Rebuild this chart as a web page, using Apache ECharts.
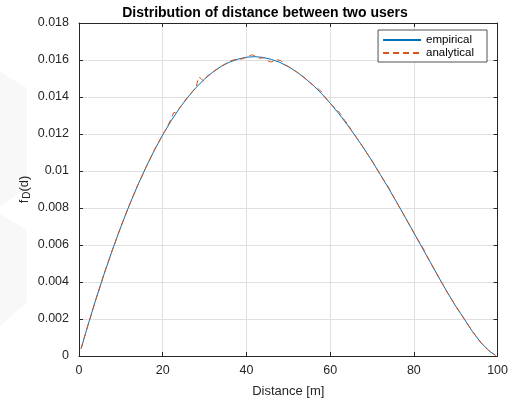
<!DOCTYPE html>
<html>
<head>
<meta charset="utf-8">
<script src="https://cdn.jsdelivr.net/npm/echarts@6/dist/echarts.min.js"></script>
<style>
  html, body { margin: 0; padding: 0; background: #fff; }
  #chart { width: 511px; height: 403px; }
</style>
</head>
<body>
<div id="chart"></div>
<script>
// Empirical distance histogram (bin centres in metres and densities)
const empiricalDist = [0.5, 2, 4, 6, 8, 10, 12, 14, 16, 18, 20, 22, 24, 26, 28, 30, 32, 34, 36, 38,
  40, 42, 44, 46, 48, 50, 52, 54, 56, 58, 60, 62, 64, 66, 68, 70, 72, 74, 76, 78,
  80, 82, 84, 86, 88, 90, 92, 94, 96, 98, 99.5];
const empiricalVal = [0.0004, 0.00156, 0.00304, 0.00443, 0.00575, 0.00698, 0.00814, 0.00921, 0.01020, 0.01112,
  0.01195, 0.01271, 0.01339, 0.01399, 0.01452, 0.01497, 0.01535, 0.01566, 0.01589, 0.01605,
  0.01615, 0.01618, 0.01614, 0.01603, 0.01587, 0.01564, 0.01536, 0.01501, 0.01462, 0.01417,
  0.01367, 0.01312, 0.01253, 0.01190, 0.01124, 0.01054, 0.00980, 0.00905, 0.00827, 0.00747,
  0.00666, 0.00585, 0.00504, 0.00423, 0.00344, 0.00269, 0.00202, 0.00132, 0.00073, 0.00027, 0.00004];

// Analytical curve samples
const analyticalDist = [0.5, 2, 4, 6, 8, 10, 12, 14, 16, 18, 20, 21, 22, 22.6, 23.4, 24, 25, 26, 27, 28,
  28.6, 29.2, 29.8, 30.5, 31.5, 32, 33, 34, 35, 36, 37, 38, 39, 39.8, 40.6, 41.5, 42.4, 43.2, 44, 45,
  45.8, 46.6, 47.4, 48.2, 49, 50, 51, 52, 53, 54, 55, 56, 57, 57.8, 59, 60, 61, 61.8, 62.6, 63.5,
  64.3, 65, 66, 67, 68, 69, 70, 71, 72, 73, 73.7, 74.5, 76, 77, 78, 79, 80, 81, 81.6, 82.4,
  83, 84, 86, 88, 90, 92, 94, 96, 98, 99.5];
const analyticalVal = [0.0004, 0.00156, 0.00303, 0.00445, 0.00574, 0.00699, 0.00813, 0.00922, 0.01019, 0.01113,
  0.01196, 0.01234, 0.01282, 0.01315, 0.01318, 0.01339, 0.01371, 0.01400, 0.01427, 0.01455,
  0.01508, 0.01499, 0.01485, 0.01510, 0.01528, 0.01535, 0.01552, 0.01566, 0.01580, 0.01593,
  0.01601, 0.01604, 0.01606, 0.01613, 0.01623, 0.01628, 0.01617, 0.01609, 0.01612, 0.01597,
  0.01589, 0.01594, 0.01601, 0.01597, 0.01578, 0.01565, 0.01550, 0.01535, 0.01519, 0.01502,
  0.01482, 0.01463, 0.01447, 0.01432, 0.01393, 0.01367, 0.01342, 0.01326, 0.01305, 0.01272,
  0.01252, 0.01223, 0.01190, 0.01157, 0.01124, 0.01089, 0.01055, 0.01018, 0.00980, 0.00944,
  0.00922, 0.00888, 0.00826, 0.00787, 0.00747, 0.00707, 0.00666, 0.00627, 0.00607, 0.00574,
  0.00545, 0.00504, 0.00424, 0.00343, 0.00270, 0.00201, 0.00133, 0.00072, 0.00027, 0.00004];

const xTicks = [0, 20, 40, 60, 80, 100];
const yTicks = [0, 0.002, 0.004, 0.006, 0.008, 0.01, 0.012, 0.014, 0.016, 0.018];

const seriesNames = ['empirical', 'analytical'];
const titleText = 'Distribution of distance between two users';
const xName = 'Distance [m]';

const FONT = '"Liberation Sans", Arial, Helvetica, sans-serif';
const AX = '#262626';

const zip = (xs, ys) => xs.map((x, i) => [x, ys[i]]);

const chart = echarts.init(document.getElementById('chart'), null, { renderer: 'canvas' });

const baseAxis = {
  type: 'value',
  axisLine: { show: true, onZero: false, lineStyle: { color: AX, width: 1 } },
  axisTick: { show: true, inside: true, length: 4, lineStyle: { color: AX, width: 1 } },
  minorTick: { show: false }
};

chart.setOption({
  animation: false,
  backgroundColor: '#ffffff',
  textStyle: { fontFamily: FONT },
  title: {
    text: titleText,
    left: 260,
    textAlign: 'center',
    top: 1,
    textStyle: { fontFamily: FONT, fontSize: 14, fontWeight: 'bold', color: '#000' }
  },
  graphic: [
    { type: 'polygon', silent: true, z: -10,
      shape: { points: [[0, 72], [27, 88], [27, 188], [0, 206]] },
      style: { fill: '#f8f8f8' } },
    { type: 'polygon', silent: true, z: -10,
      shape: { points: [[0, 214], [27, 230], [27, 302], [0, 326]] },
      style: { fill: '#f8f8f8' } }
  ],
  grid: { left: 79, right: 8, top: 23, bottom: 45, containLabel: false },
  legend: {
    orient: 'vertical',
    right: 24,
    top: 30,
    itemWidth: 38,
    itemHeight: 13,
    itemGap: 1,
    padding: [4, 13, 3, 4],
    borderColor: AX,
    borderWidth: 0.8,
    backgroundColor: '#ffffff',
    textStyle: { fontFamily: FONT, fontSize: 11.5, color: '#000' },
    data: seriesNames
  },
  xAxis: [
    Object.assign({}, baseAxis, {
      position: 'bottom',
      min: xTicks[0], max: xTicks[xTicks.length - 1], interval: xTicks[1] - xTicks[0],
      name: xName,
      nameLocation: 'middle',
      nameGap: 29,
      nameMoveOverlap: false,
      nameTextStyle: { fontFamily: FONT, fontSize: 13, color: AX },
      axisLabel: { margin: 8, fontFamily: FONT, fontSize: 12.5, color: AX },
      splitLine: { show: true, lineStyle: { color: '#e0e0e0', width: 1 } }
    }),
    Object.assign({}, baseAxis, {
      position: 'top',
      min: xTicks[0], max: xTicks[xTicks.length - 1], interval: xTicks[1] - xTicks[0],
      axisLabel: { show: false },
      splitLine: { show: false }
    })
  ],
  yAxis: [
    Object.assign({}, baseAxis, {
      position: 'left',
      min: yTicks[0], max: yTicks[yTicks.length - 1], interval: yTicks[1] - yTicks[0],
      name: '{a|f}{s|D}{a|(d)}',
      nameLocation: 'middle',
      nameGap: 47,
      nameMoveOverlap: false,
      nameRotate: 90,
      nameTextStyle: {
        color: AX,
        rich: {
          a: { fontFamily: FONT, fontSize: 13, color: AX, verticalAlign: 'middle', lineHeight: 16 },
          s: { fontFamily: FONT, fontSize: 10, color: AX, verticalAlign: 'bottom', lineHeight: 12, padding: [8, 0, 0, 1] }
        }
      },
      axisLabel: { margin: 10, fontFamily: FONT, fontSize: 12.5, color: AX },
      splitLine: { show: true, lineStyle: { color: '#e0e0e0', width: 1 } }
    }),
    Object.assign({}, baseAxis, {
      position: 'right',
      min: yTicks[0], max: yTicks[yTicks.length - 1], interval: yTicks[1] - yTicks[0],
      axisLabel: { show: false },
      splitLine: { show: false }
    })
  ],
  series: [
    {
      name: seriesNames[0],
      type: 'line',
      data: zip(empiricalDist, empiricalVal),
      showSymbol: false,
      symbol: 'none',
      smooth: false,
      color: '#0072BD',
      itemStyle: { color: '#0072BD', opacity: 0 },
      lineStyle: { color: '#0072BD', width: 1 },
      z: 2
    },
    {
      name: seriesNames[1],
      type: 'line',
      data: zip(analyticalDist, analyticalVal),
      showSymbol: false,
      symbol: 'none',
      smooth: false,
      color: '#D95319',
      itemStyle: { color: '#D95319', opacity: 0 },
      lineStyle: { color: '#D95319', width: 1, type: [6, 4] },
      z: 3
    }
  ]
});
</script>
</body>
</html>
